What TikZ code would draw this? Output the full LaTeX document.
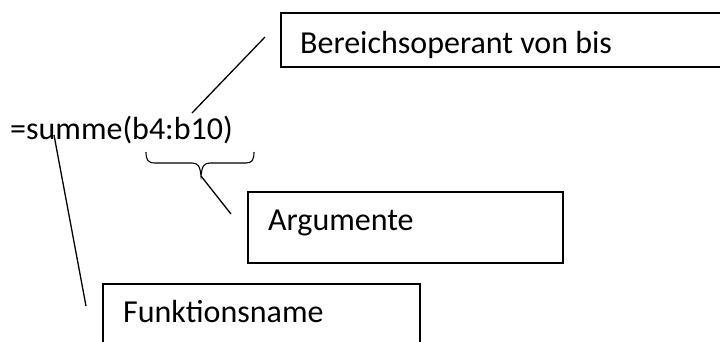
\documentclass[tikz,border=0pt]{standalone}
\usepackage{fontspec}
\setmainfont{Carlito}
\begin{document}
\begin{tikzpicture}[x=1pt,y=-1pt,
  lbl/.style={anchor=base west,inner sep=0pt,font=\fontsize{32}{38}\selectfont},
  frame/.style={draw,line width=1.6pt,anchor=north west,inner sep=0pt},
  conn/.style={line width=1.3pt}]
\useasboundingbox (0,0) rectangle (720,341);
% formula
\node[lbl] (f) at (10,139) {=summe(b4:b10)};
% boxes
\node[frame,minimum width=450pt,minimum height=54pt] (b1) at (280,12) {};
\node[lbl] (t1) at (300,53) {Bereichsoperant von bis};
\node[frame,minimum width=315pt,minimum height=71pt] (b2) at (247,191) {};
\node[lbl] (t2) at (268,230) {Argumente};
\node[frame,minimum width=317pt,minimum height=80pt] (b3) at (102,283) {};
\node[lbl] (t3) at (123,322) {Funktionsname};
% connector end points
\coordinate (c1a) at (192,113);
\coordinate (c1b) at (265,37);
\coordinate (tip) at (201,176);
\coordinate (c2b) at (231,214);
\coordinate (c3a) at (54,135);
\coordinate (c3b) at (86,306);
% brace
\draw[conn,line width=1.1pt] (146,152) .. controls (146,160) and (148,163) .. (155,163)
  -- (192,163) .. controls (198,163) and (200,166) .. (tip)
  .. controls (202,166) and (204,163) .. (210,163)
  -- (246,163) .. controls (252,163) and (254,160) .. (254,152);
% connectors
\draw[conn] (c1a) -- (c1b);
\draw[conn] (tip) -- (c2b);
\draw[conn] (c3a) -- (c3b);
\end{tikzpicture}
\end{document}
